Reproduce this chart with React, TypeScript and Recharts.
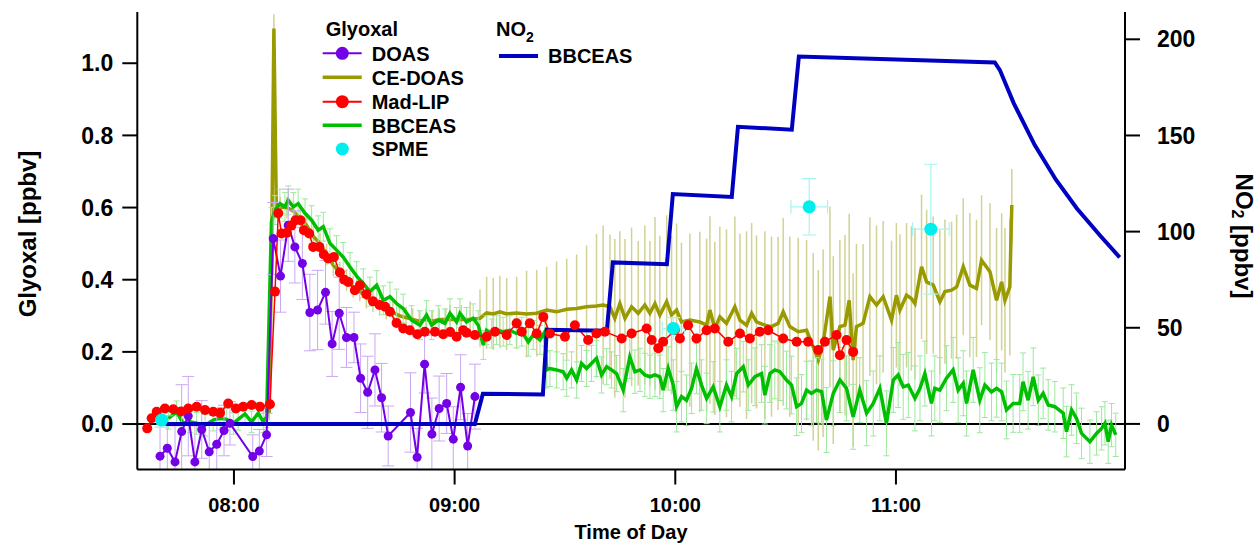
import { ComposedChart, Line, Scatter, XAxis, YAxis, ErrorBar, ReferenceLine } from 'recharts';

// [hour of day, glyoxal ppbv, 1-sigma error]
const doas: [number, number, number][] = [
  [7.665, -0.089, 0.1], [7.698, -0.067, 0.09], [7.733, -0.105, 0.1], [7.763, -0.021, 0.13],
  [7.793, 0.022, 0.11], [7.823, -0.105, 0.1], [7.854, -0.015, 0.08], [7.888, -0.077, 0.08],
  [7.922, -0.056, 0.08], [7.955, -0.018, 0.07], [7.982, 0.002, 0.06], [8.085, -0.09, 0.06],
  [8.115, -0.075, 0.06], [8.148, -0.03, 0.06], [8.178, 0.514, 0.1], [8.211, 0.41, 0.1],
  [8.246, 0.551, 0.1], [8.276, 0.491, 0.1], [8.31, 0.445, 0.1], [8.344, 0.309, 0.106],
  [8.379, 0.316, 0.11], [8.415, 0.365, 0.088], [8.445, 0.222, 0.09], [8.477, 0.307, 0.1],
  [8.51, 0.24, 0.083], [8.544, 0.24, 0.07], [8.574, 0.127, 0.095], [8.606, 0.088, 0.1],
  [8.639, 0.15, 0.1], [8.669, 0.073, 0.095], [8.699, -0.033, 0.083], [8.8, 0.032, 0.11],
  [8.83, -0.092, 0.08], [8.864, 0.166, 0.08], [8.897, -0.028, 0.1], [8.93, 0.043, 0.09],
  [8.964, 0.057, 0.083], [8.994, -0.042, 0.09], [9.027, 0.102, 0.09], [9.059, -0.061, 0.09],
  [9.092, 0.076, 0.09],
];

const ceDoas: [number, number, number][] = [
  [8.16, 0.03, 0.02], [8.172, 0.55, 0.03], [8.181, 1.096, 0.04], [8.192, 0.6, 0.03],
  [8.21, 0.6, 0.03], [8.24, 0.6, 0.03], [8.27, 0.59, 0.03], [8.3, 0.57, 0.03], [8.33, 0.55, 0.03],
  [8.36, 0.52, 0.03], [8.39, 0.5, 0.03], [8.42, 0.47, 0.03], [8.45, 0.44, 0.03], [8.48, 0.42, 0.03],
  [8.51, 0.4, 0.03], [8.54, 0.38, 0.03], [8.57, 0.37, 0.03], [8.6, 0.35, 0.03], [8.63, 0.34, 0.03],
  [8.66, 0.33, 0.03], [8.69, 0.32, 0.03], [8.72, 0.31, 0.03], [8.75, 0.3, 0.03], [8.78, 0.295, 0.03],
  [8.81, 0.29, 0.03], [8.84, 0.285, 0.03], [8.87, 0.29, 0.03], [8.9, 0.285, 0.03], [8.93, 0.29, 0.03],
  [8.96, 0.29, 0.03], [8.979, 0.29, 0.04], [9.03, 0.29, 0.04], [9.07, 0.29, 0.05],
  [9.115, 0.293, 0.08], [9.145, 0.308, 0.1], [9.175, 0.305, 0.1], [9.205, 0.311, 0.1],
  [9.236, 0.305, 0.1], [9.281, 0.308, 0.1], [9.326, 0.305, 0.12], [9.372, 0.307, 0.12],
  [9.417, 0.316, 0.12], [9.462, 0.311, 0.14], [9.508, 0.318, 0.14], [9.553, 0.32, 0.15],
  [9.598, 0.325, 0.17], [9.643, 0.327, 0.2], [9.673, 0.33, 0.22], [9.704, 0.325, 0.2],
  [9.726, 0.293, 0.22], [9.749, 0.334, 0.2], [9.772, 0.293, 0.22], [9.802, 0.325, 0.22],
  [9.832, 0.307, 0.2], [9.862, 0.33, 0.22], [9.885, 0.307, 0.2], [9.908, 0.334, 0.24],
  [9.93, 0.302, 0.22], [9.961, 0.339, 0.24], [9.983, 0.302, 0.22], [10.006, 0.316, 0.24],
  [10.028, 0.283, 0.22], [10.066, 0.288, 0.24], [10.111, 0.283, 0.25], [10.142, 0.274, 0.24],
  [10.157, 0.316, 0.26], [10.179, 0.265, 0.24], [10.202, 0.297, 0.25], [10.232, 0.279, 0.26],
  [10.27, 0.325, 0.25], [10.293, 0.288, 0.24], [10.323, 0.274, 0.26], [10.346, 0.307, 0.25],
  [10.368, 0.283, 0.24], [10.406, 0.274, 0.26], [10.436, 0.27, 0.25], [10.466, 0.279, 0.24],
  [10.489, 0.311, 0.26], [10.519, 0.27, 0.25], [10.557, 0.256, 0.26], [10.595, 0.26, 0.25],
  [10.625, 0.214, 0.26], [10.648, 0.177, 0.25], [10.67, 0.224, 0.26], [10.701, 0.353, 0.25],
  [10.716, 0.205, 0.26], [10.746, 0.27, 0.24], [10.769, 0.274, 0.25], [10.788, 0.343, 0.24],
  [10.806, 0.177, 0.24], [10.821, 0.27, 0.23], [10.851, 0.279, 0.22], [10.882, 0.353, 0.22],
  [10.912, 0.33, 0.22], [10.942, 0.353, 0.21], [10.98, 0.288, 0.22], [11.002, 0.357, 0.2],
  [11.018, 0.316, 0.21], [11.048, 0.357, 0.2], [11.07, 0.348, 0.2], [11.086, 0.334, 0.21],
  [11.116, 0.436, 0.2], [11.139, 0.394, 0.2], [11.169, 0.385, 0.19], [11.199, 0.339, 0.2],
  [11.222, 0.367, 0.2], [11.252, 0.371, 0.19], [11.275, 0.38, 0.2], [11.305, 0.436, 0.19],
  [11.335, 0.385, 0.2], [11.365, 0.376, 0.19], [11.388, 0.454, 0.18], [11.426, 0.422, 0.19],
  [11.456, 0.343, 0.2], [11.479, 0.394, 0.19], [11.494, 0.343, 0.2], [11.516, 0.38, 0.19],
  [11.525, 0.607, 0.1],
];

const madLip: [number, number][] = [
  [7.607, -0.012], [7.627, 0.016], [7.65, 0.034], [7.687, 0.043], [7.725, 0.041], [7.76, 0.035],
  [7.793, 0.043], [7.831, 0.048], [7.869, 0.039], [7.906, 0.034], [7.937, 0.031], [7.974, 0.057],
  [8.009, 0.043], [8.042, 0.048], [8.08, 0.053], [8.118, 0.048], [8.163, 0.055], [8.186, 0.367],
  [8.201, 0.584], [8.216, 0.528], [8.24, 0.53], [8.26, 0.55], [8.279, 0.565], [8.302, 0.565],
  [8.317, 0.537], [8.341, 0.528], [8.359, 0.491], [8.387, 0.491], [8.407, 0.47], [8.427, 0.459],
  [8.453, 0.463], [8.48, 0.42], [8.5, 0.4], [8.518, 0.394], [8.548, 0.371], [8.571, 0.385],
  [8.6, 0.36], [8.63, 0.34], [8.66, 0.33], [8.685, 0.325], [8.707, 0.311], [8.737, 0.28],
  [8.767, 0.265], [8.797, 0.26], [8.831, 0.249], [8.865, 0.256], [8.911, 0.256], [8.948, 0.249],
  [8.98, 0.255], [9.009, 0.242], [9.039, 0.26], [9.054, 0.253], [9.092, 0.247], [9.145, 0.242],
  [9.183, 0.256], [9.236, 0.247], [9.281, 0.279], [9.304, 0.256], [9.341, 0.279], [9.372, 0.251],
  [9.402, 0.297], [9.432, 0.251], [9.5, 0.242], [9.545, 0.274], [9.605, 0.233], [9.643, 0.251],
  [9.681, 0.256], [9.757, 0.237], [9.802, 0.251], [9.87, 0.265], [9.893, 0.233], [9.923, 0.21],
  [9.945, 0.228], [9.998, 0.26], [10.021, 0.237], [10.058, 0.274], [10.096, 0.237], [10.142, 0.26],
  [10.179, 0.265], [10.24, 0.228], [10.293, 0.251], [10.338, 0.237], [10.383, 0.256], [10.421, 0.26],
  [10.489, 0.237], [10.55, 0.228], [10.602, 0.228], [10.648, 0.205], [10.678, 0.228], [10.731, 0.247],
  [10.746, 0.191], [10.776, 0.233], [10.806, 0.2],
];

const bbceasGlyoxal: [number, number, number][] = [
  [7.703, 0.016, 0.03], [7.74, 0.034, 0.03], [7.77, 0.002, 0.03], [7.801, 0.006, 0.03],
  [7.831, 0.002, 0.03], [7.869, -0.003, 0.03], [7.906, 0.011, 0.03], [7.937, 0.016, 0.03],
  [7.967, 0.013, 0.03], [7.997, 0.002, 0.03], [8.019, 0.013, 0.03], [8.05, 0.028, 0.03],
  [8.08, 0.006, 0.03], [8.11, 0.03, 0.03], [8.133, 0.006, 0.03], [8.148, 0.02, 0.03],
  [8.17, 0.56, 0.04], [8.186, 0.593, 0.04], [8.208, 0.611, 0.04], [8.231, 0.602, 0.04],
  [8.246, 0.62, 0.04], [8.269, 0.602, 0.04], [8.291, 0.611, 0.04], [8.322, 0.584, 0.04],
  [8.352, 0.565, 0.04], [8.382, 0.537, 0.04], [8.405, 0.547, 0.04], [8.435, 0.501, 0.04],
  [8.465, 0.482, 0.04], [8.495, 0.463, 0.04], [8.526, 0.435, 0.04], [8.556, 0.41, 0.04],
  [8.586, 0.39, 0.04], [8.616, 0.367, 0.04], [8.647, 0.385, 0.04], [8.677, 0.343, 0.04],
  [8.707, 0.353, 0.04], [8.737, 0.334, 0.04], [8.767, 0.32, 0.04], [8.805, 0.288, 0.04],
  [8.843, 0.274, 0.04], [8.873, 0.302, 0.04], [8.896, 0.274, 0.04], [8.926, 0.288, 0.04],
  [8.956, 0.279, 0.04], [8.979, 0.307, 0.04], [9.009, 0.283, 0.04], [9.024, 0.307, 0.04],
  [9.054, 0.283, 0.04], [9.084, 0.293, 0.04], [9.107, 0.274, 0.04], [9.13, 0.219, 0.04],
  [9.145, 0.26, 0.04], [9.168, 0.251, 0.04], [9.19, 0.26, 0.04], [9.22, 0.256, 0.04],
  [9.25, 0.26, 0.04], [9.28, 0.251, 0.04], [9.304, 0.256, 0.04], [9.334, 0.228, 0.04],
  [9.356, 0.247, 0.04], [9.387, 0.233, 0.04], [9.409, 0.256, 0.04], [9.417, 0.15, 0.05],
  [9.432, 0.154, 0.05], [9.462, 0.15, 0.05], [9.492, 0.145, 0.05], [9.508, 0.127, 0.05],
  [9.53, 0.15, 0.05], [9.553, 0.122, 0.05], [9.575, 0.168, 0.05], [9.598, 0.154, 0.05],
  [9.62, 0.168, 0.05], [9.643, 0.182, 0.05], [9.666, 0.136, 0.05], [9.689, 0.159, 0.05],
  [9.711, 0.15, 0.05], [9.734, 0.14, 0.05], [9.764, 0.094, 0.06], [9.794, 0.186, 0.06],
  [9.817, 0.145, 0.06], [9.84, 0.15, 0.06], [9.862, 0.136, 0.06], [9.885, 0.131, 0.06],
  [9.908, 0.136, 0.06], [9.93, 0.131, 0.06], [9.945, 0.094, 0.06], [9.968, 0.154, 0.06],
  [9.991, 0.108, 0.07], [10.006, 0.048, 0.07], [10.028, 0.076, 0.07], [10.051, 0.066, 0.07],
  [10.074, 0.099, 0.07], [10.096, 0.154, 0.07], [10.119, 0.108, 0.07], [10.142, 0.071, 0.07],
  [10.172, 0.103, 0.07], [10.202, 0.048, 0.07], [10.232, 0.108, 0.07], [10.255, 0.076, 0.07],
  [10.278, 0.14, 0.07], [10.308, 0.159, 0.07], [10.331, 0.108, 0.07], [10.361, 0.131, 0.08],
  [10.391, 0.14, 0.08], [10.406, 0.08, 0.08], [10.429, 0.14, 0.08], [10.451, 0.15, 0.08],
  [10.474, 0.145, 0.08], [10.504, 0.122, 0.08], [10.527, 0.108, 0.08], [10.55, 0.048, 0.08],
  [10.572, 0.057, 0.08], [10.595, 0.094, 0.08], [10.617, 0.085, 0.09], [10.64, 0.094, 0.09],
  [10.663, 0.09, 0.09], [10.685, 0.011, 0.09], [10.716, 0.085, 0.09], [10.746, 0.122, 0.09],
  [10.776, 0.099, 0.09], [10.806, 0.02, 0.09], [10.836, 0.094, 0.09], [10.867, 0.03, 0.09],
  [10.897, 0.057, 0.09], [10.927, 0.099, 0.09], [10.957, 0.002, 0.09], [10.988, 0.122, 0.09],
  [11.01, 0.136, 0.09], [11.033, 0.103, 0.09], [11.056, 0.108, 0.09], [11.086, 0.071, 0.09],
  [11.109, 0.099, 0.09], [11.131, 0.14, 0.09], [11.161, 0.057, 0.09], [11.176, 0.099, 0.09],
  [11.199, 0.094, 0.09], [11.229, 0.127, 0.09], [11.259, 0.15, 0.09], [11.282, 0.094, 0.09],
  [11.305, 0.113, 0.09], [11.32, 0.057, 0.09], [11.35, 0.15, 0.09], [11.38, 0.066, 0.09],
  [11.403, 0.108, 0.09], [11.433, 0.089, 0.08], [11.456, 0.099, 0.08], [11.479, 0.089, 0.08],
  [11.501, 0.039, 0.08], [11.531, 0.057, 0.08], [11.561, 0.057, 0.08], [11.576, 0.117, 0.08],
  [11.599, 0.066, 0.08], [11.622, 0.131, 0.08], [11.645, 0.066, 0.07], [11.667, 0.085, 0.07],
  [11.69, 0.053, 0.07], [11.72, 0.048, 0.07], [11.758, 0.03, 0.07], [11.773, -0.021, 0.07],
  [11.796, 0.039, 0.07], [11.818, 0.016, 0.07], [11.841, -0.026, 0.07], [11.879, -0.049, 0.06],
  [11.909, -0.026, 0.06], [11.932, -0.012, 0.06], [11.947, 0.002, 0.06], [11.962, -0.049, 0.06],
  [11.977, -0.003, 0.06], [11.996, -0.03, 0.06],
];

// [hour, glyoxal, y error, x error (h)]
const spme: [number, number, number, number][] = [
  [7.672, 0.011, 0.02, 0.02],
  [9.991, 0.265, 0.03, 0.05],
  [10.607, 0.602, 0.078, 0.083],
  [11.158, 0.54, 0.18, 0.083],
];

// [hour, NO2 ppbv]
const no2: [number, number][] = [
  [7.69, 0], [9.092, 0], [9.128, 15.7], [9.4, 15.3], [9.418, 49], [9.69, 48.5],
  [9.717, 84], [9.962, 83], [9.989, 119.5], [10.256, 118], [10.284, 154.5], [10.528, 153],
  [10.56, 191], [11.448, 188], [11.471, 184], [11.534, 166.7], [11.629, 145], [11.725, 127],
  [11.82, 112], [11.928, 97.6], [12.014, 86.6],
];

const hourTicks = [8, 9, 10, 11];
const glyoxalTicks = [0, 0.2, 0.4, 0.6, 0.8, 1.0];
const no2Ticks = [0, 50, 100, 150, 200];

const C = {
  doas: '#7300e6',
  doasErr: '#caa8f2',
  ce: '#999900',
  ceErr: '#d2d296',
  mad: '#ff0000',
  green: '#00bf00',
  greenErr: '#9ee89e',
  spme: '#00eeee',
  spmeErr: '#a6f4f4',
  no2: '#0000c0',
};

const FONT = '"Liberation Sans", Arial, Helvetica, sans-serif';

// plot box on the page
const PLOT = { left: 137.3, right: 1125, top: 12, bottom: 469.5 };

const rows3 = (a: [number, number, number][]) => a.map(([t, v, e]) => ({ t, v, e }));

const doasRows = rows3(doas);
const ceRows = rows3(ceDoas);
const greenRows = rows3(bbceasGlyoxal);
const madRows = madLip.map(([t, v]) => ({ t, v }));
const spmeRows = spme.map(([t, v, e, xe]) => ({ t, v, e, xe }));
const no2Rows = no2.map(([t, v]) => ({ t, v }));

const axisStyle = { stroke: '#000', strokeWidth: 2 };
const tickFont = { fill: '#000', fontSize: 23, fontWeight: 'bold', fontFamily: FONT };

function RightTick(p: any) {
  return (
    <g>
      <line x1={PLOT.right} x2={PLOT.right + 15} y1={p.y} y2={p.y} stroke="#000" strokeWidth={2} />
      <text x={PLOT.right + 32} y={p.y} dy="0.355em" textAnchor="start" {...tickFont}>
        {p.payload.value}
      </text>
    </g>
  );
}

function Overlay() {
  const txt = { fontFamily: FONT, fontWeight: 'bold' as const, fill: '#000' };
  const rows = [
    { y: 53.3, label: 'DOAS', color: C.doas, w: 2, dot: true, line: true },
    { y: 77.3, label: 'CE-DOAS', color: C.ce, w: 3.5, dot: false, line: true },
    { y: 101.7, label: 'Mad-LIP', color: C.mad, w: 2, dot: true, line: true },
    { y: 125.3, label: 'BBCEAS', color: C.green, w: 3.5, dot: false, line: true },
    { y: 149, label: 'SPME', color: C.spme, w: 0, dot: true, line: false },
  ];
  return (
    <svg width={1259} height={546} style={{ position: 'absolute', left: 0, top: 0, pointerEvents: 'none', overflow: 'visible' }}>
      <defs>
        <clipPath id="plotClip" clipPathUnits="userSpaceOnUse">
          <rect x={PLOT.left} y={PLOT.top} width={PLOT.right - PLOT.left} height={PLOT.bottom - PLOT.top} />
        </clipPath>
      </defs>
      <text x={325.7} y={36.2} fontSize={20} {...txt}>Glyoxal</text>
      {rows.map((r) => (
        <g key={r.label}>
          {r.line && <line x1={322.7} x2={361.7} y1={r.y} y2={r.y} stroke={r.color} strokeWidth={r.w} />}
          {r.dot && <circle cx={342.3} cy={r.y} r={6.5} fill={r.color} />}
          <text x={371.7} y={r.y + 7.2} fontSize={20} {...txt}>{r.label}</text>
        </g>
      ))}
      <text x={496} y={36.2} fontSize={20} {...txt}>
        NO<tspan fontSize={14} dy={6}>2</tspan>
      </text>
      <line x1={499} x2={538} y1={56} y2={56} stroke={C.no2} strokeWidth={4} />
      <text x={548} y={63.2} fontSize={20} {...txt}>BBCEAS</text>

      <text x={27} y={234} fontSize={24} textAnchor="middle" dominantBaseline="central" transform="rotate(-90 27 234)" {...txt}>
        Glyoxal [ppbv]
      </text>
      <text x={1244} y={236} fontSize={24} textAnchor="middle" dominantBaseline="central" transform="rotate(90 1244 236)" {...txt}>
        NO<tspan fontSize={16} dy={6}>2</tspan><tspan dy={-6}> [ppbv]</tspan>
      </text>
      <text x={631} y={532} fontSize={20} textAnchor="middle" dominantBaseline="central" {...txt}>
        Time of Day
      </text>
    </svg>
  );
}

export default function App() {
  return (
    <div style={{ position: 'fixed', left: 0, top: 0, width: 1259, height: 546, background: '#fff' }}>
      <style>{`.recharts-errorBars, .recharts-errorBar { clip-path: url(#plotClip); }`}</style>
      <ComposedChart width={1259} height={546} margin={{ top: 12, right: 34, bottom: 16.5, left: 57.3 }}>
        <XAxis
          xAxisId="x"
          dataKey="t"
          type="number"
          domain={[7.562, 12.038]}
          ticks={hourTicks}
          allowDataOverflow
          tickFormatter={(h: number) => `${String(h).padStart(2, '0')}:00`}
          height={60}
          tickSize={15}
          tickMargin={13}
          axisLine={axisStyle}
          tickLine={axisStyle}
          tick={{ ...tickFont, fontSize: 20 }}
        />
        <YAxis
          yAxisId="g"
          type="number"
          domain={[-0.126, 1.142]}
          ticks={glyoxalTicks}
          allowDataOverflow
          width={80}
          tickSize={15}
          tickMargin={9}
          tickFormatter={(v: number) => v.toFixed(1)}
          axisLine={axisStyle}
          tickLine={axisStyle}
          tick={tickFont}
        />
        <YAxis
          yAxisId="n"
          orientation="right"
          type="number"
          domain={[-23.7, 214.2]}
          ticks={no2Ticks}
          allowDataOverflow
          width={100}
          axisLine={axisStyle}
          tickLine={false}
          tick={<RightTick />}
        />
        <ReferenceLine xAxisId="x" yAxisId="g" y={0} stroke="#000" strokeWidth={2} />

        <Line
          xAxisId="x"
          yAxisId="g"
          data={ceRows}
          dataKey="v"
          type="linear"
          stroke={C.ce}
          strokeWidth={3.5}
          dot={false}
          isAnimationActive={false}
        >
          <ErrorBar dataKey="e" direction="y" width={0} stroke={C.ceErr} strokeWidth={1.5} />
        </Line>
        <Line
          xAxisId="x"
          yAxisId="g"
          data={greenRows}
          dataKey="v"
          type="linear"
          stroke={C.green}
          strokeWidth={3.5}
          dot={false}
          isAnimationActive={false}
        >
          <ErrorBar dataKey="e" direction="y" width={3} stroke={C.greenErr} strokeWidth={1} />
        </Line>
        <Line
          xAxisId="x"
          yAxisId="g"
          data={doasRows}
          dataKey="v"
          type="linear"
          stroke={C.doas}
          strokeWidth={2}
          dot={{ r: 4.5, fill: C.doas, stroke: C.doas, strokeWidth: 0 }}
          isAnimationActive={false}
        >
          <ErrorBar dataKey="e" direction="y" width={6} stroke={C.doasErr} strokeWidth={1} />
        </Line>
        <Line
          xAxisId="x"
          yAxisId="g"
          data={madRows}
          dataKey="v"
          type="linear"
          stroke={C.mad}
          strokeWidth={1.5}
          dot={{ r: 5, fill: C.mad, stroke: C.mad, strokeWidth: 0 }}
          isAnimationActive={false}
        />
        <Scatter
          xAxisId="x"
          yAxisId="g"
          data={spmeRows}
          dataKey="v"
          fill={C.spme}
          isAnimationActive={false}
          shape={(p: any) => <circle cx={p.cx} cy={p.cy} r={6.5} fill={C.spme} />}
        >
          <ErrorBar dataKey="e" direction="y" width={7} stroke={C.spmeErr} strokeWidth={1.2} />
          <ErrorBar dataKey="xe" direction="x" width={7} stroke={C.spmeErr} strokeWidth={1.2} />
        </Scatter>
        <Line
          xAxisId="x"
          yAxisId="n"
          data={no2Rows}
          dataKey="v"
          type="linear"
          stroke={C.no2}
          strokeWidth={4}
          dot={false}
          isAnimationActive={false}
        />
      </ComposedChart>
      <Overlay />
    </div>
  );
}
